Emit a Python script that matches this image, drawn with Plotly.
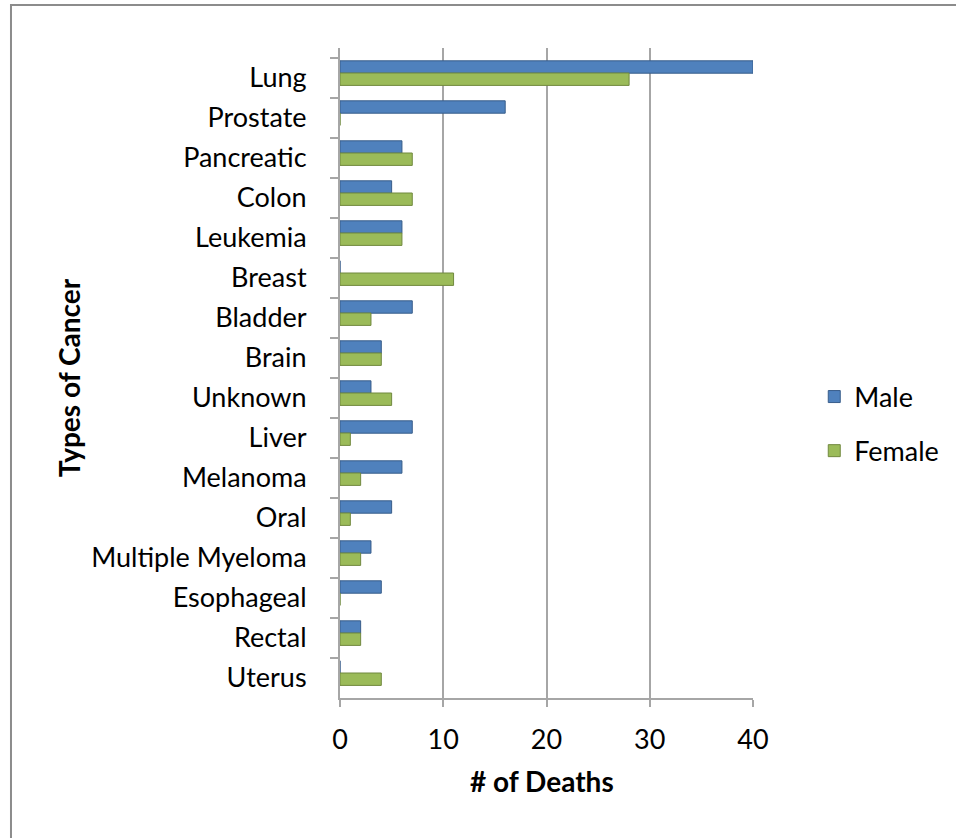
import plotly.graph_objects as go

categories = ["Lung", "Prostate", "Pancreatic", "Colon", "Leukemia", "Breast", "Bladder",
              "Brain", "Unknown", "Liver", "Melanoma", "Oral", "Multiple Myeloma",
              "Esophageal", "Rectal", "Uterus"]
male = [40, 16, 6, 5, 6, 0, 7, 4, 3, 7, 6, 5, 3, 4, 2, 0]
female = [28, 0, 7, 7, 6, 11, 3, 4, 5, 1, 2, 1, 2, 0, 2, 4]
x_ticks = [0, 10, 20, 30, 40]

W, H = 956, 838
L, R, T, B = 340, 758, 48, 698  # plot area in pixels

FONT = "Lato"
FS = 27

fig = go.Figure()
fig.add_trace(go.Bar(
    y=categories, x=male, orientation="h", name="Male",
    marker=dict(color="#4F81BD", line=dict(color="#385D8A", width=1)),
    offset=-0.43, width=0.31, legendgroup="m",
))
fig.add_trace(go.Bar(
    y=categories, x=female, orientation="h", name="Female",
    marker=dict(color="#9BBB59", line=dict(color="#71893F", width=1)),
    offset=-0.125, width=0.31, legendgroup="f",
))

pw, ph = R - L, B - T
def px(x):
    return (x - L) / pw
def py(y):
    return (B - y) / ph

fig.update_layout(
    width=W, height=H,
    margin=dict(l=L, r=W - R, t=T, b=H - B, pad=0),
    paper_bgcolor="white", plot_bgcolor="white",
    barmode="overlay",
    font=dict(family=FONT, size=FS, color="black"),
    showlegend=True,
    legend=dict(x=px(820), y=py(424), xanchor="left", yanchor="middle",
                font=dict(family=FONT, size=FS), tracegroupgap=16,
                itemwidth=30, bgcolor="rgba(0,0,0,0)"),
    xaxis=dict(range=[0, 40], tickvals=x_ticks, ticktext=[str(v) for v in x_ticks],
               showgrid=True, gridcolor="#A6A6A6", gridwidth=2,
               showline=True, linecolor="#A6A6A6", linewidth=2,
               ticks="outside", ticklen=7, tickcolor="#A6A6A6", tickwidth=2,
               ticklabelstandoff=10,
               tickfont=dict(family=FONT, size=FS), zeroline=False),
    yaxis=dict(categoryorder="array", categoryarray=categories,
               range=[15.5, -0.75],
               showline=True, linecolor="#A6A6A6", linewidth=2,
               ticks="outside", tickson="boundaries", ticklen=8, tickcolor="#A6A6A6", tickwidth=2,
               ticklabelstandoff=26,
               tickfont=dict(family=FONT, size=FS), showgrid=False),
    annotations=[
        dict(text="<b>Types of Cancer</b>", xref="paper", yref="paper",
             x=px(66), y=py(378), xanchor="center", yanchor="middle",
             textangle=-90, showarrow=False, font=dict(family=FONT, size=28)),
        dict(text="<b># of Deaths</b>", xref="paper", yref="paper",
             x=px(544), y=py(781), xanchor="center", yanchor="middle",
             showarrow=False, font=dict(family=FONT, size=28)),
    ],
    shapes=[dict(type="rect", xref="paper", yref="paper",
                 x0=px(7), x1=px(1000), y0=py(5), y1=py(900),
                 line=dict(color="#8C8C8C", width=2), fillcolor="rgba(0,0,0,0)", layer="above")],
)

fig.write_html("out.html", config={"displayModeBar": False},
               post_script="document.body.style.margin='0';")
